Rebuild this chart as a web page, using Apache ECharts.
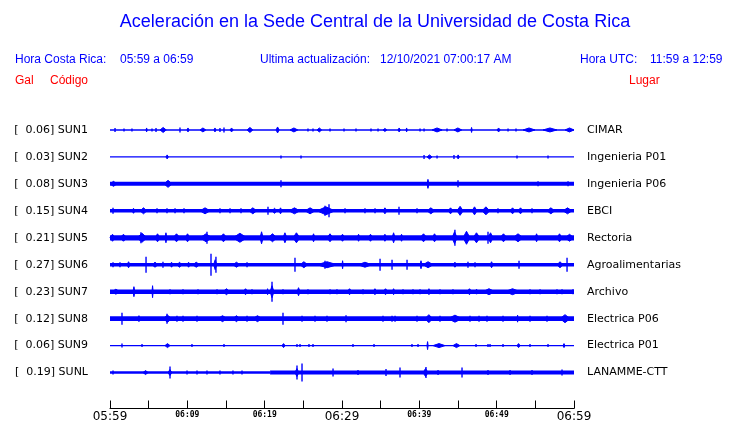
<!DOCTYPE html>
<html><head><meta charset="utf-8">
<script src="https://cdn.jsdelivr.net/npm/echarts@6/dist/echarts.min.js"></script>
<style>html,body{margin:0;padding:0;background:#fff}#c{width:740px;height:423px}</style>
</head><body><div id="c"></div>
<script>
// ---- data ----
const stationCodes = ['SUN1','SUN2','SUN3','SUN4','SUN5','SUN6','SUN7','SUN8','SUN9','SUNL'];
const peakGal = ['0.06','0.03','0.08','0.15','0.21','0.27','0.23','0.12','0.06','0.19'];
const places = ['CIMAR','Ingenieria P01','Ingenieria P06','EBCI','Rectoria','Agroalimentarias','Archivo','Electrica P06','Electrica P01','LANAMME-CTT'];
const tickLabels = ['05:59','06:09','06:19','06:29','06:39','06:49','06:59']; // every 10 min
// background noise level per station: [startMin, endMin, halfAmplitude]
const noiseBands = [
  [[0,60,0.8]], [[0,60,0.6]], [[0,60,2]], [[0,60,1.8]], [[0,60,2.6]],
  [[0,60,1.7]], [[0,60,2.2]], [[0,60,2.4]], [[0,60,0.6]], [[0,20.7,1.3],[20.7,60,2]]
];
// events: [minute since 05:59, halfAmplitude, durationMin]
const sun1Events = [[0.65,2,0],[1.81,1.5,0],[2.84,1.5,0],[4.66,2,0.15],[5.43,1.5,0],[5.95,2,0],[6.47,2.5,0.8],[9.05,2.5,0],[9.96,2,0.25],[11.64,2,0.75],[13.45,2,0.25],[14.22,2,0],[14.74,2.5,0],[15.52,2,0.4],[17.72,2.5,0.75],[21.47,3,0.4],[23.28,2,1],[25.6,1.5,0],[26.25,1.5,0],[26.77,2,0.6],[28.45,1.5,0],[30.26,1.5,0],[31.81,1.5,0],[33.75,1.5,0],[34.66,1.5,0],[35.3,1.5,0.5],[37.24,2,0.3],[38.28,2,0.15],[40.09,1.5,0],[40.61,1.5,0],[41.64,2,1.3],[43.58,1.5,0],[44.48,2,1],[46.68,2.5,0.15],[50.05,2,0.4],[51.47,1.5,0],[52.5,1.5,0],[53.41,2,1.55],[55.99,2,1.8],[58.84,2,1.16]];
const sun2Events = [[7.24,2,0.3],[22.11,1.5,0],[24.7,1.5,0],[40.61,2,0],[40.99,2,0.65],[42.29,1.5,0],[44.48,2,0],[44.87,2,0.3],[52.63,1.5,0],[56.64,1.5,0]];
const sun3Events = [[0,2.5,0.9],[6.98,3.5,1.05],[22.11,3.5,0],[40.99,4.5,0.25],[45,3.5,0],[55.35,2.5,0],[59.23,2.5,0]];
const sun4Events = [[0.39,3,0],[2.84,2.5,0.4],[3.88,3,0.9],[6.08,2.5,0],[7.37,2.5,0],[8.41,2.5,0],[9.57,2.5,0],[11.64,3,1.3],[14.22,2.5,0],[15.52,2.5,0],[16.94,2.5,0],[17.97,3,1],[20.43,4,0],[20.95,2.5,0.65],[21.85,3,0.4],[23.15,3,1.4],[25.22,3,1.3],[26.77,4,2.3],[27.8,5,0],[28.32,6.5,0],[30.39,2.5,0],[32.97,2.5,0],[34.27,2.5,0],[35.3,3,0.5],[37.37,4,0],[39.7,2.5,0],[40.99,3,1],[43.71,3,0.65],[44.87,4.5,0.8],[46.81,4,0.65],[48.11,4,1],[50.17,2.5,0],[51.73,3,0.65],[52.76,3,0.65],[54.57,2.5,0],[56.51,3,1],[58.58,3,1.16]];
const sun5Events = [[0,3.5,0.65],[1.29,3.5,0.9],[3.49,4.5,1.3],[4.0,5.5,0],[5.82,4,0.65],[7.11,5,0.25],[8.15,4,0.9],[9.7,4,0.65],[11.64,4,1.55],[12.54,6,0],[14.22,4,0.9],[15.9,4.5,1.8],[19.4,6,0.4],[20.43,4,1.16],[22.37,5,0.5],[23.66,5,0.9],[26.12,4,0.4],[28.06,4,0.78],[29.74,3.5,0.65],[31.94,3.5,0.4],[33.36,3.5,0.65],[35.3,3.5,0.5],[36.47,5,0.4],[37.5,3.5,0.4],[40.09,4,0.9],[41.64,4,0.65],[44.23,6,0.65],[44.6,8,0],[45.65,6.5,0.9],[46.94,5,0.9],[48.88,6,0],[48.88,5,0.65],[50.43,4,0.9],[52.11,4,1.3],[54.96,4,0.4],[57.8,4,0.65],[58.84,3.5,1.16]];
const sun6Events = [[0.39,2.5,0],[1.29,2.5,0],[2.2,3,0.4],[4.66,8,0],[5.43,2.5,0.78],[6.85,3,0],[7.76,2.5,0.4],[8.66,2.5,0.65],[9.96,2.5,0.4],[10.7,2.5,0.9],[13.06,11,0],[13.4,5,0.4],[13.7,8,0],[15.9,2.5,0.9],[17.72,2.5,0],[23.92,7,0],[24.57,3,1],[26.77,3,2.6],[27.8,4,0],[30,4,0.15],[32.07,2.5,1.8],[34.92,6,0],[36.47,5,0],[38.41,5,0],[40.09,4,0.25],[40.48,3,1.3],[44.35,2.5,0.5],[46.29,3,0],[47.2,2.5,0],[49.14,3,0.4],[52.89,4,0],[57.8,3,0.78],[59.1,7,0]];
const sun7Events = [[0.26,2.5,1],[2.97,5,0.25],[5.43,6,0.15],[7.76,2.5,0],[9.44,2.5,0],[11.38,2.5,0],[13.84,2.5,0],[14.61,3,0.9],[17.2,3,0.65],[18.36,2.5,0],[20.3,3,0.15],[20.7,6,0.5],[20.95,10,0],[22.37,2.5,0],[24.18,4,0.4],[25.6,2.5,0],[28.45,2.5,0],[29.35,2.5,0],[30.65,3,0.65],[32.72,2.5,0],[34.01,3,0.5],[35.3,3,0.65],[36.47,3,0.4],[37.89,2.5,0],[39.18,2.5,0],[40.09,2.5,0],[41.12,3,0.25],[42.67,2.5,0],[44.35,2.5,0],[46.16,3,0.65],[47.2,2.5,0.4],[48.23,3,1.55],[51.08,3,1.94],[54.31,2.5,0],[55.61,2.5,0],[57.8,2.5,0],[58.45,2.5,0],[59.87,2.5,0]];
const sun8Events = [[1.55,6,0],[3.62,3,0.25],[6.85,3.5,1.16],[7.37,5,0],[8.66,3,0],[9.44,3,0],[11.25,3,0],[13.97,3,1.16],[15.9,3,0.9],[17.72,3,0],[18.49,3,1.16],[22.37,6,0],[24.83,3,0],[26.51,3,0],[28.06,3,0],[30.52,3.5,0],[35.3,3,0],[36.47,3,0],[36.86,3,0],[39.7,3,0],[40.73,4,1],[42.67,3,0],[43.71,3.5,1.8],[46.55,3,0],[47.72,3,0],[48.75,3,0],[50.82,3,0],[52.63,3.5,0.15],[54.31,3,0],[56.51,3,0],[58.19,4,1.3]];
const sun9Events = [[1.55,2,0],[4.14,1.5,0],[7.11,2,0.65],[10.6,1.5,0],[14.74,1.5,0],[22.24,2,0.4],[24.18,1.5,0],[24.57,1.5,0],[25.73,1.5,0],[26.25,1.5,0],[31.42,1.5,0],[34.14,1.5,0],[39.05,1.5,0],[39.83,1.5,0],[40.99,4,0.15],[41.77,2,1.55],[44.35,2,0.9],[47.33,1.5,0],[48.88,1.5,0],[49.14,1.5,0],[50.82,1.5,0],[52.63,2,0.4],[54.31,1.5,0],[56.64,1.5,0],[58.58,2,0.25]];
const sunlEvents = [[0.39,2,0],[4.27,2,0.65],[7.5,3,0.5],[7.76,6,0],[9.96,2,0],[11.25,2,0],[12.54,2,0],[14.22,2,0],[15.9,2,0],[17.07,2,0],[23.92,4,0.5],[24.18,7,0],[24.83,9,0],[28.84,4,0],[32.07,2.5,0],[35.69,3.5,0],[37.5,5,0],[40.48,4,0.65],[40.86,5.5,0],[42.42,2.5,0],[45.52,5,0],[48.88,2.5,0],[51.73,2.5,0],[54.57,2.5,0],[58.45,3,0]];
const stationEvents = [sun1Events,sun2Events,sun3Events,sun4Events,sun5Events,sun6Events,sun7Events,sun8Events,sun9Events,sunlEvents];

// ---- build ----
const BLUE = '#0000ff';
const GAIN = 1/27;
const items = [];
stationCodes.forEach((code, row) => {
  noiseBands[row].forEach(b => items.push([b[0], row, b[2], b[1] - b[0], 0]));
  stationEvents[row].forEach(e => items.push([e[0], row, e[1], e[2], 1]));
});

const chart = echarts.init(document.getElementById('c'));
const txt = (x, y, text, color, size, align) => ({
  type: 'text', x: x, y: y,
  style: { text: text, fill: color, font: size + 'px "Liberation Sans", Arial, sans-serif',
           textVerticalAlign: 'middle', textAlign: align || 'left' }
});

chart.setOption({
  animation: false,
  backgroundColor: '#fff',
  grid: { left: 110, right: 166, top: 103, bottom: 14 },
  xAxis: {
    type: 'value', min: 0, max: 60, interval: 5,
    axisLine: { show: true, onZero: false, lineStyle: { color: '#000', width: 1 } },
    axisTick: { show: true, inside: true, length: 8, lineStyle: { color: '#000' } },
    splitLine: { show: false },
    axisLabel: {
      margin: 2, showMinLabel: true, showMaxLabel: true,
      formatter: v => {
        if (v % 10 !== 0) return '';
        const l = tickLabels[v / 10];
        return v % 30 === 0 ? '{big|' + l + '}' : '{small|' + l + '}';
      },
      rich: {
        big: { fontFamily: 'DejaVu Sans', fontSize: 12, color: '#000', lineHeight: 13 },
        small: { fontFamily: 'DejaVu Sans Mono', fontWeight: 'bold', fontSize: 8, color: '#000', lineHeight: 9 }
      }
    }
  },
  yAxis: [{
    type: 'value', min: -1, max: 10.3333, interval: 1, inverse: true, position: 'left',
    axisLine: { show: false }, axisTick: { show: false }, splitLine: { show: false },
    axisLabel: {
      margin: 22, fontFamily: 'DejaVu Sans', fontSize: 11, color: '#000',
      formatter: v => (Number.isInteger(v) && v >= 0 && v <= 9) ? '[  ' + peakGal[v] + '] ' + stationCodes[v] : ''
    }
  }, {
    type: 'value', min: -1, max: 10.3333, interval: 1, inverse: true, position: 'right',
    axisLine: { show: false }, axisTick: { show: false }, splitLine: { show: false },
    axisLabel: {
      margin: 13, fontFamily: 'DejaVu Sans', fontSize: 11, color: '#000',
      formatter: v => (Number.isInteger(v) && v >= 0 && v <= 9) ? places[v] : ''
    }
  }],
  series: [{
    type: 'custom',
    coordinateSystem: 'cartesian2d',
    clip: false,
    data: items,
    renderItem: (params, api) => {
      const t = api.value(0), row = api.value(1), a = api.value(2), d = api.value(3), isEvent = api.value(4);
      const c0 = api.coord([t, row]);
      const top = api.coord([t, row - a * GAIN]);
      const bot = api.coord([t, row + a * GAIN]);
      if (isEvent && d > 0) {
        // burst: spindle-shaped envelope
        const c1 = api.coord([t + d, row]);
        const xm = (c0[0] + c1[0]) / 2;
        return {
          type: 'polygon',
          shape: { points: [[c0[0], c0[1]], [xm, top[1]], [c1[0], c0[1]], [xm, bot[1]]] },
          style: { fill: BLUE, stroke: BLUE, lineWidth: 1 }
        };
      }
      if (isEvent) {
        return {
          type: 'rect',
          shape: { x: c0[0] - 0.7, y: top[1], width: 1.4, height: bot[1] - top[1] },
          style: { fill: BLUE }
        };
      }
      const c1 = api.coord([t + d, row]);
      return {
        type: 'rect',
        shape: { x: c0[0], y: top[1], width: c1[0] - c0[0], height: Math.max(bot[1] - top[1], 1) },
        style: { fill: BLUE }
      };
    }
  }],
  graphic: [
    txt(375, 22, 'Aceleración en la Sede Central de la Universidad de Costa Rica', BLUE, 18, 'center'),
    txt(15, 60, 'Hora Costa Rica:', BLUE, 12),
    txt(120, 60, '05:59 a 06:59', BLUE, 12),
    txt(260, 60, 'Ultima actualización:', BLUE, 12),
    txt(380, 60, '12/10/2021 07:00:17 AM', BLUE, 12),
    txt(580, 60, 'Hora UTC:', BLUE, 12),
    txt(650, 60, '11:59 a 12:59', BLUE, 12),
    txt(15, 81, 'Gal', '#ff0000', 12),
    txt(50, 81, 'Código', '#ff0000', 12),
    txt(629, 81, 'Lugar', '#ff0000', 12)
  ]
});
</script>
</body></html>
